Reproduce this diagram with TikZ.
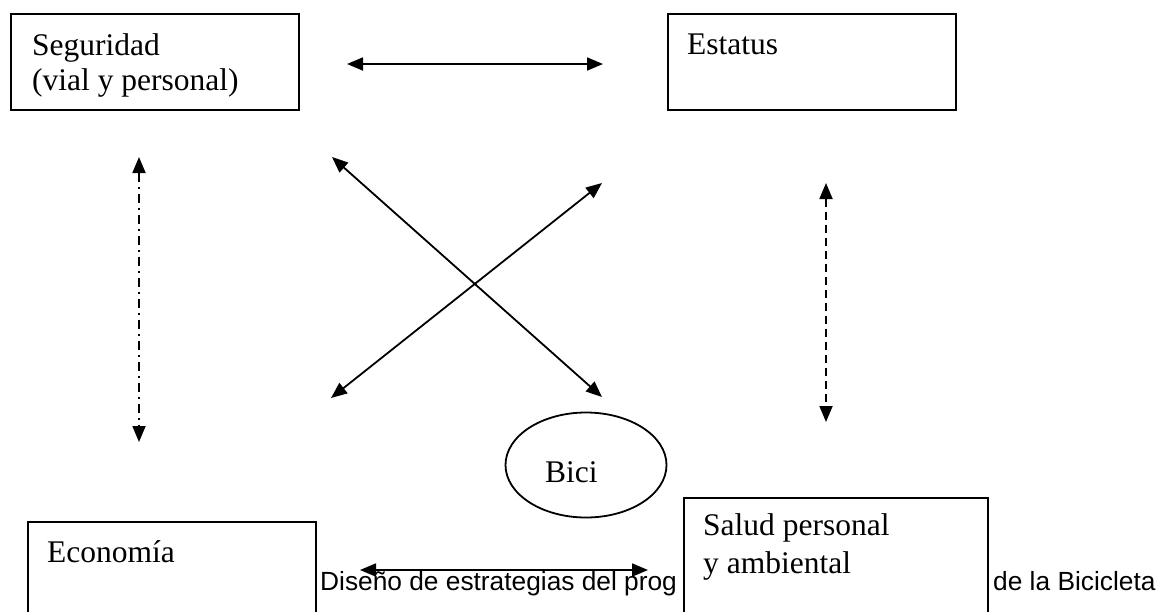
\documentclass[tikz,border=0pt]{standalone}
\usepackage{fontspec}
\setmainfont{Liberation Serif}
\newfontfamily\arialf{Liberation Sans}
\usetikzlibrary{arrows.meta,shapes.geometric}
\begin{document}
\begin{tikzpicture}[x=1pt,y=-1pt,
  box/.style={draw, line width=1.8pt, fill=white, inner sep=0pt, anchor=north west},
  lbl/.style={anchor=base west, inner sep=0pt, font=\fontsize{31.5}{37}\selectfont},
  foot/.style={anchor=base west, inner sep=0pt, font=\arialf\fontsize{26.3}{30}\selectfont},
  link/.style={line width=1.8pt, {Triangle[length=16pt,width=13pt]}-{Triangle[length=16pt,width=13pt]}},
  dashdotlink/.style={link, dash pattern=on 9pt off 5pt on 2pt off 5pt},
  dashlink/.style={link, dash pattern=on 8pt off 5pt}
]
\useasboundingbox (0,0) rectangle (1158,611);
\fill[white] (0,0) rectangle (1158,611);
\clip (0,0) rectangle (1158,611);

% footer text (partly hidden by the box below)
\node[foot] (f1) at (320,590) {Diseño de estrategias del prog};
\node[foot] (f2) at (993,590) {de la Bicicleta};

% boxes
\node[box, minimum width=288pt, minimum height=96pt] (seg) at (10,13) {};
\node[box, minimum width=288pt, minimum height=96pt] (est) at (667,13) {};
\node[box, minimum width=288pt, minimum height=130pt] (eco) at (27,521) {};
\node[box, minimum width=304pt, minimum height=150pt] (sal) at (683,497) {};
\node[draw, ellipse, line width=1.8pt, minimum width=161pt, minimum height=105pt, inner sep=0pt] (bici) at (586,465) {};

% texts
\node[lbl] (t1) at (32,55) {Seguridad};
\node[lbl] (t2) at (32,90) {(vial y personal)};
\node[lbl] (t3) at (687,54) {Estatus};
\node[lbl] (t4) at (47,562) {Economía};
\node[lbl] (t5) at (703,535) {Salud personal};
\node[lbl] (t6) at (703,573) {y ambiental};
\node[lbl] (t7) at (545,482) {Bici};

% arrow end points
\coordinate (a1) at (347,64);  \coordinate (a2) at (603,64);
\coordinate (b1) at (139,157); \coordinate (b2) at (139,442);
\coordinate (c1) at (826,183); \coordinate (c2) at (826,422);
\coordinate (d1) at (332,157); \coordinate (d2) at (602,397);
\coordinate (e1) at (602,183); \coordinate (e2) at (331,398);
\coordinate (g1) at (360,570); \coordinate (g2) at (648,570);

\draw[link] (a1) -- (a2);
\draw[dashdotlink] (b1) -- (b2);
\draw[dashlink] (c1) -- (c2);
\draw[link] (d1) -- (d2);
\draw[link] (e1) -- (e2);
\draw[link] (g1) -- (g2);
\end{tikzpicture}
\end{document}
